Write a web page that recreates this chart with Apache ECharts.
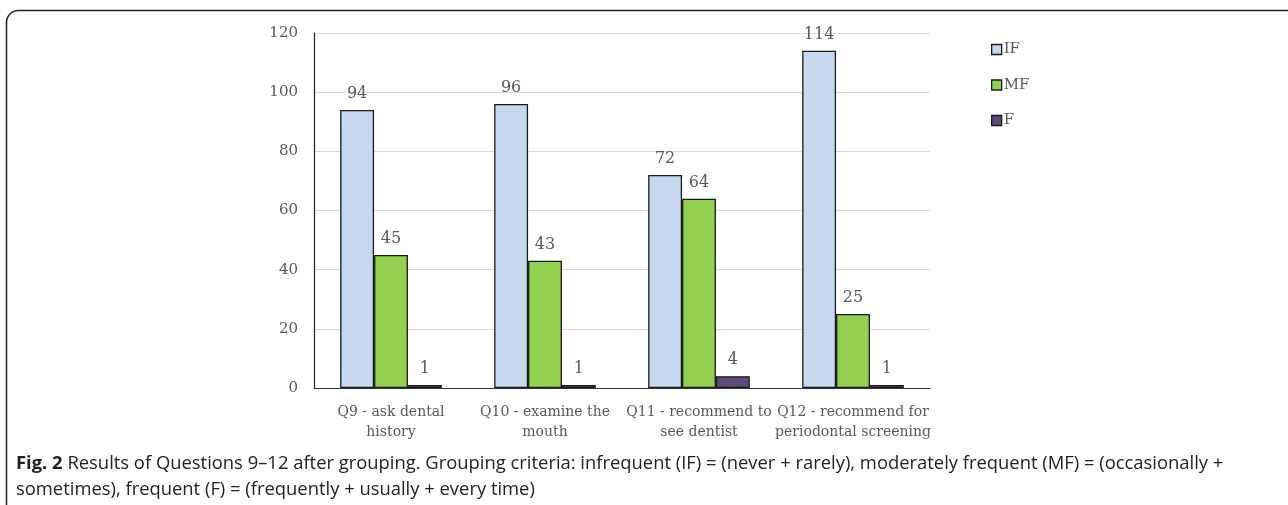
<!DOCTYPE html>
<html><head><meta charset="utf-8">
<script src="https://cdn.jsdelivr.net/npm/echarts@6/dist/echarts.min.js"></script>
<style>html,body{margin:0;padding:0;background:#fff}#c{width:1288px;height:505px}</style>
</head><body><div id="c"></div>
<script>
const categories = ["Q9 - ask dental\nhistory", "Q10 - examine the\nmouth", "Q11 - recommend to\nsee dentist", "Q12 - recommend for\nperiodontal screening"];
const seriesNames = ["IF", "MF", "F"];
const ifValues = [94, 96, 72, 114];
const mfValues = [45, 43, 64, 25];
const fValues = [1, 1, 4, 1];
const yTicks = [0, 20, 40, 60, 80, 100, 120];

const serif = "'DejaVu Serif', 'Liberation Serif', serif";
const sans = "'Open Sans', 'Noto Sans', sans-serif";
const colors = ["#c6d7ee", "#92d050", "#604a7b"];
const chart = echarts.init(document.getElementById('c'));
const mk = (name, data, color) => ({
  name, type: 'bar', data, barGap: '0%', barCategoryGap: '34%',
  itemStyle: { color, borderColor: '#1a1a1a', borderWidth: 1.3 },
  label: { show: true, position: 'top', distance: 8, color: '#595959', fontFamily: serif, fontSize: 16 }
});
chart.setOption({
  animation: false,
  grid: { left: 314, right: 358, top: 33, bottom: 117 },
  legend: {
    orient: 'vertical', left: 986, top: 35, itemGap: 16.5, itemWidth: 10, itemHeight: 10,
    icon: 'rect',
    textStyle: { fontFamily: serif, fontSize: 15, color: '#595959', padding: [0,0,0,-3], lineHeight: 19 },
    itemStyle: { borderColor: '#1a1a1a', borderWidth: 1.3 }
  },
  xAxis: {
    type: 'category', data: categories,
    axisLine: { lineStyle: { color: '#333', width: 1 } },
    axisTick: { show: false },
    axisLabel: { interval: 0, fontFamily: serif, fontSize: 14, color: '#595959', lineHeight: 20, margin: 14 }
  },
  yAxis: {
    type: 'value', min: yTicks[0], max: yTicks[yTicks.length-1], interval: 20,
    axisLine: { show: true, lineStyle: { color: '#222', width: 1.2 } },
    axisLabel: { fontFamily: serif, fontSize: 15, color: '#595959', margin: 16 },
    splitLine: { lineStyle: { color: '#d9d9d9', width: 1 } }
  },
  series: [mk(seriesNames[0], ifValues, colors[0]), mk(seriesNames[1], mfValues, colors[1]), mk(seriesNames[2], fValues, colors[2])],
  graphic: [
    { type: 'rect', left: 4, top: 8, shape: { width: 1320, height: 540, r: 12 }, style: { fill: 'none', stroke: '#222', lineWidth: 1.5 }, z: -1 },
    { type: 'text', left: 16, top: 451, style: {
      text: '{b|Fig. 2} Results of Questions 9–12 after grouping. Grouping criteria: infrequent (IF) = (never + rarely), moderately frequent (MF) = (occasionally +\nsometimes), frequent (F) = (frequently + usually + every time)',
      fontFamily: sans, fontSize: 18.4, lineHeight: 26, fill: '#222',
      rich: { b: { fontWeight: 'bold', fontFamily: sans, fontSize: 18.4, fill: '#222' } }
    } }
  ]
});
</script></body></html>
